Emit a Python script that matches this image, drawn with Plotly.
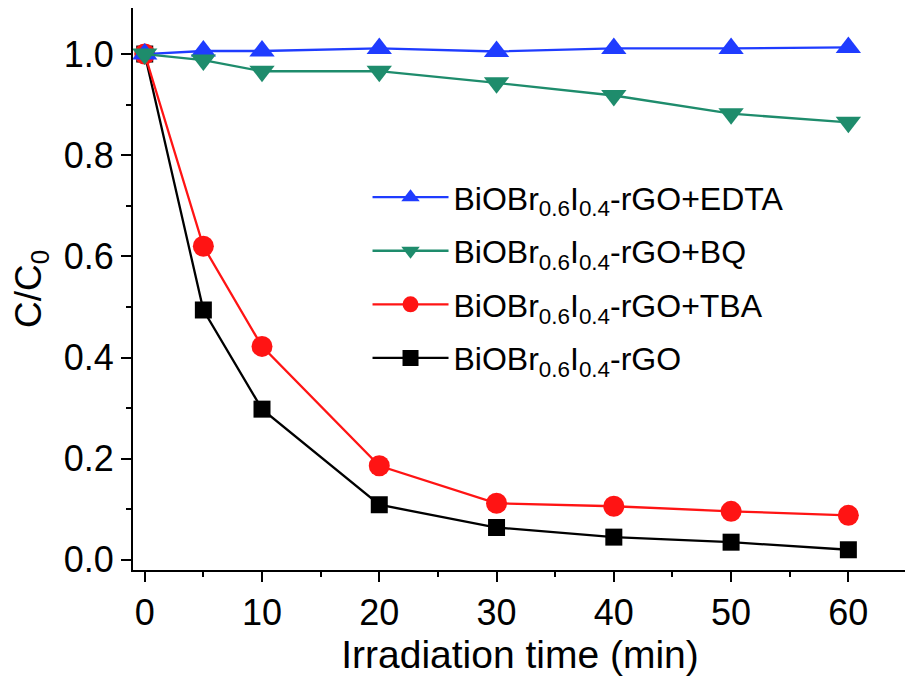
import plotly.graph_objects as go

# irradiation time (min)
time_min = [0, 5, 10, 20, 30, 40, 50, 60]

# C/C0 for each scavenger experiment
c_edta = [1.000, 1.006, 1.006, 1.011, 1.005, 1.011, 1.011, 1.013]
c_bq = [1.000, 0.988, 0.966, 0.966, 0.943, 0.918, 0.882, 0.865]
c_tba = [1.000, 0.620, 0.422, 0.186, 0.112, 0.106, 0.096, 0.088]
c_rgo = [1.000, 0.494, 0.298, 0.109, 0.064, 0.045, 0.035, 0.020]

names = {
    "edta": "BiOBr<sub>0.6</sub>I<sub>0.4</sub>-rGO+EDTA",
    "bq": "BiOBr<sub>0.6</sub>I<sub>0.4</sub>-rGO+BQ",
    "tba": "BiOBr<sub>0.6</sub>I<sub>0.4</sub>-rGO+TBA",
    "rgo": "BiOBr<sub>0.6</sub>I<sub>0.4</sub>-rGO",
}

FONT = "Liberation Sans, Arial, sans-serif"

fig = go.Figure()

# drawn back to front: black, red, blue, green (legend order via legendrank)
fig.add_trace(go.Scatter(x=time_min, y=c_rgo, name=names["rgo"], mode="lines+markers",
                         line=dict(color="#000000", width=2.3),
                         marker=dict(symbol="square", size=17, color="#000000"),
                         legendrank=4, legendgroup="rgo"))
fig.add_trace(go.Scatter(x=time_min, y=c_tba, name=names["tba"], mode="lines+markers",
                         line=dict(color="#ff1414", width=2.3),
                         marker=dict(symbol="circle", size=21, color="#ff1414"),
                         legendrank=3, legendgroup="tba"))
fig.add_trace(go.Scatter(x=time_min, y=c_edta, name=names["edta"], mode="lines+markers",
                         line=dict(color="#1f3cff", width=2.3),
                         marker=dict(symbol="triangle-up", size=22, color="#1f3cff"),
                         legendrank=1, legendgroup="edta"))
fig.add_trace(go.Scatter(x=time_min, y=c_bq, name=names["bq"], mode="lines+markers",
                         line=dict(color="#1e8c6c", width=2.3),
                         marker=dict(symbol="triangle-down", size=22, color="#1e8c6c"),
                         legendrank=2, legendgroup="bq"))

axis_common = dict(
    showline=True, linecolor="black", linewidth=2, mirror=True,
    ticks="outside", ticklen=10, tickwidth=2, tickcolor="black",
    showgrid=False, zeroline=False,
    tickfont=dict(family=FONT, size=36, color="black"),
)

fig.update_xaxes(
    range=[-1, 65], dtick=10, tick0=0,
    minor=dict(dtick=5, ticks="outside", ticklen=5, tickwidth=2, tickcolor="black"),
    title=dict(text="Irradiation time (min)", font=dict(family=FONT, size=39, color="black"), standoff=1),
    **axis_common,
)
fig.update_yaxes(
    range=[-0.02, 1.091], dtick=0.2, tick0=0, tickformat=".1f",
    minor=dict(dtick=0.1, ticks="outside", ticklen=5, tickwidth=2, tickcolor="black"),
    title=dict(text="C/C<sub>0</sub>", font=dict(family=FONT, size=37, color="black"), standoff=40),
    **axis_common,
)

# page body adds an 8px offset, margins are set to compensate
fig.update_layout(
    width=913, height=681,
    margin=dict(l=125, r=14, t=0, b=119, autoexpand=False),
    plot_bgcolor="white", paper_bgcolor="white",
    font=dict(family=FONT, color="black"),
    showlegend=True,
    legend=dict(
        x=0.303, y=0.712, xanchor="left", yanchor="top",
        bgcolor="rgba(0,0,0,0)",
        font=dict(family=FONT, size=32, color="black"),
        itemwidth=76, traceorder="grouped", tracegroupgap=9,
    ),
)

fig.write_html("out.html")
